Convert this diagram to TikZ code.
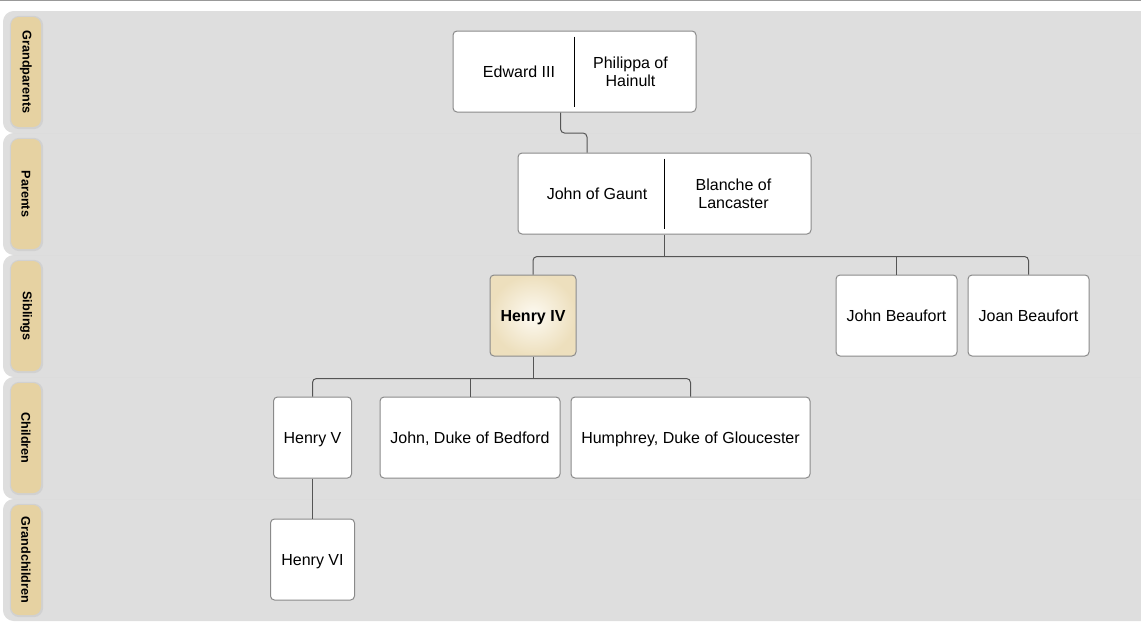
\documentclass[tikz,border=0pt]{standalone}
\usepackage{fontspec}
\setmainfont{Liberation Sans}
\usepackage{xcolor}
\usepackage{tikz}
\usetikzlibrary{positioning, calc}
\definecolor{bandgray}{HTML}{DEDEDE}
\definecolor{shadegray}{HTML}{C8C8C8}
\definecolor{tabtan}{HTML}{E6D2A2}
\definecolor{boxline}{HTML}{8A8A8A}
\definecolor{linkgray}{HTML}{555555}
\definecolor{topgray}{HTML}{999999}
\definecolor{egoin}{HTML}{FDFAF2}
\definecolor{egoout}{HTML}{EDDFBD}
\tikzstyle{band} = [fill=bandgray, rounded corners=7pt]
\tikzstyle{bandshade} = [fill=shadegray, opacity=0.6, rounded corners=8pt]
\tikzstyle{tab} = [rectangle, rounded corners=6pt, fill=tabtan, rotate=-90, minimum width=82.5pt,
  minimum height=22.5pt, inner sep=0pt, font=\bfseries\fontsize{9.5}{11}\selectfont]
\tikzstyle{tabshade} = [rectangle, rounded corners=7pt, fill=shadegray, minimum width=25pt,
  minimum height=85pt, inner sep=0pt]
\tikzstyle{person} = [rectangle, rounded corners=3pt, draw=boxline, fill=white, minimum height=60.75pt,
  align=center, line width=0.75pt, text height=11.1pt, text depth=2.5pt, font=\fontsize{12}{13.5}\selectfont]
\tikzstyle{persontext} = [align=center, inner sep=0pt, font=\fontsize{12}{13.5}\selectfont]
\tikzstyle{ego} = [inner color=egoin, outer color=egoout, font=\bfseries\fontsize{12}{13.5}\selectfont]
\tikzstyle{divider} = [black, line width=0.75pt]
\tikzstyle{link} = [linkgray, line width=0.75pt, rounded corners=3pt]
\begin{document}
\begin{tikzpicture}[x=0.75pt, y=-0.75pt]
  \useasboundingbox (0,0) rectangle (1141,639);
  \draw[topgray, line width=0.9pt] (0,0.6) -- (1141,0.6);

  \foreach \lab [count=\i] in {Grandparents,Parents,Siblings,Children,Grandchildren}{
    \pgfmathsetmacro{\bandtop}{12+122*(\i-1)}
    \fill[bandshade] (3,\bandtop-1) rectangle (1160,\bandtop+121);
    \fill[band] (6,\bandtop) rectangle (1160,\bandtop+120);
    \node[tabshade, opacity=0.55] at (26.5,\bandtop+60.5) {};
    \node (tab\i) [tab] at (26,\bandtop+60) {\lab};
  }

  \node (gp) [person, minimum width=182.25pt] at (574.5,71.5) {};
  \node (ed) [persontext] at (519,71.5) {Edward III};
  \node (phil) [persontext] at (630.5,71.5) {Philippa of\\Hainult};
  \draw[divider] ($(gp.north)+(0,6)$) -- ($(gp.south)+(0,-6)$);

  \node (par) [person, minimum width=219.75pt] at (664.5,193.5) {};
  \node (gaunt) [persontext] at (597,193.5) {John of Gaunt};
  \node (blanche) [persontext] at (733.5,193.5) {Blanche of\\Lancaster};
  \draw[divider] ($(par.north)+(0,6)$) -- ($(par.south)+(0,-6)$);

  \node (h4) [person, ego, minimum width=64.5pt] at (533,315.5) {Henry IV};
  \node (jb) [person, minimum width=90.75pt] at (896.5,315.5) {John Beaufort};
  \node (joan) [person, minimum width=90.75pt] at (1028.5,315.5) {Joan Beaufort};

  \node (h5) [person, minimum width=58.5pt] at (312.5,437.5) {Henry V};
  \node (bed) [person, minimum width=135pt] at (470,437.5) {John, Duke of Bedford};
  \node (glou) [person, minimum width=179.25pt] at (690.5,437.5) {Humphrey, Duke of Gloucester};

  \node (h6) [person, minimum width=63pt] at (312.5,559.5) {Henry VI};

  \draw[link] ($(gp.south)+(-14,0)$) -- ++(0,20.5) -| ($(par.north)+(-77.5,0)$);

  \coordinate (sbar) at ($(par.south)+(0,22)$);
  \draw[link] (par.south) -- (sbar);
  \draw[link] (h4.north) |- (sbar) -| (joan.north);
  \draw[link] (jb.north) -- (jb.north |- sbar);

  \coordinate (kbar) at ($(h4.south)+(0,22)$);
  \draw[link] (h4.south) -- (kbar);
  \draw[link] (h5.north) |- (kbar) -| (glou.north);
  \draw[link] (bed.north) -- (bed.north |- kbar);

  \draw[link] (h5.south) -- (h6.north);
\end{tikzpicture}
\end{document}
